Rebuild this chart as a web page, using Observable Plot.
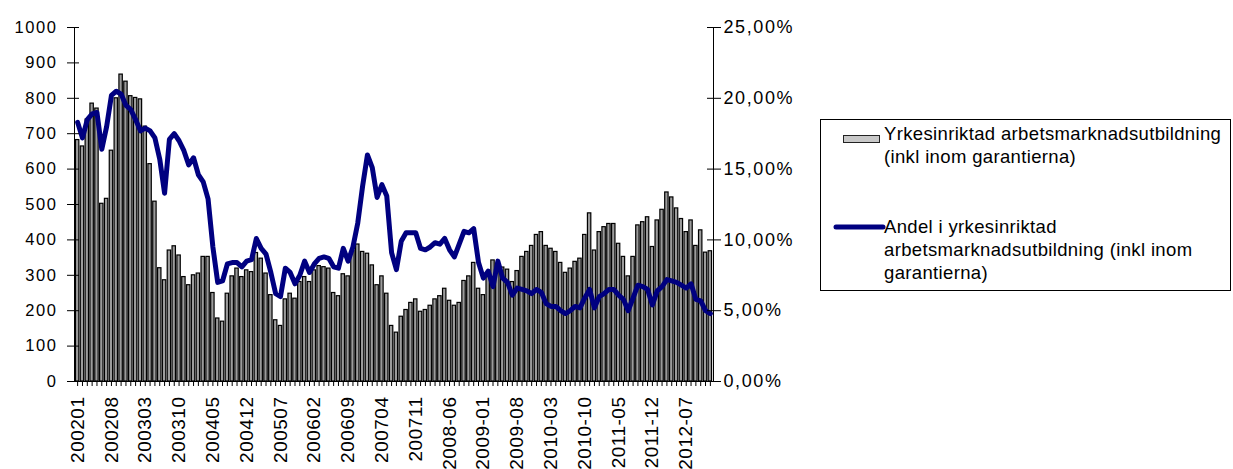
<!DOCTYPE html>
<html>
<head>
<meta charset="utf-8">
<script src="https://cdn.jsdelivr.net/npm/d3@7"></script>
<script src="https://cdn.jsdelivr.net/npm/@observablehq/plot@0.6"></script>
<style>
  html, body { margin: 0; padding: 0; background: #fff; width: 1233px; height: 469px; overflow: hidden; }
  #chart { position: absolute; left: 0; top: 0; }
  #legend { position: absolute; left: 0; top: 0; }
  g[aria-label="x-axis tick label"] text { letter-spacing: 0.5px; }
  .rlab g[aria-label="y-axis tick label"] text { letter-spacing: 1.6px; }
</style>
</head>
<body>
<div id="chart"></div>
<svg id="legend" width="1233" height="469" style="pointer-events:none"></svg>
<script>
// Categories: months 2002-01 .. 2012-12 (labels as in the source: YYYYMM until 2007, YYYY-MM from 2008)
const years = [2002, 2003, 2004, 2005, 2006, 2007, 2008, 2009, 2010, 2011, 2012];
const monthNums = ["01","02","03","04","05","06","07","08","09","10","11","12"];
const months = [];
for (const y of years) for (const m of monthNums) months.push(y < 2008 ? `${y}${m}` : `${y}-${m}`);

// Tick labels shown on the x axis
const tickLabels = ["200201","200208","200303","200310","200405","200412","200507","200602","200609",
  "200704","200711","2008-06","2009-01","2009-08","2010-03","2010-10","2011-05","2011-12","2012-07"];

// Bars: Yrkesinriktad arbetsmarknadsutbildning (inkl inom garantierna), count
const counts = [
  682, 664, 740, 785, 771, 502, 516, 652, 800, 867, 847, 806, 801, 797, 720, 614, 508, 320, 286, 370, 382, 356, 295, 272, 300, 305,
  352, 352, 250, 178, 169, 248, 297, 319, 295, 314, 309, 363, 347, 305, 244, 173, 157, 232, 248, 234, 281, 295, 281, 314, 326, 323,
  319, 250, 241, 303, 297, 370, 387, 366, 361, 328, 272, 297, 248, 157, 138, 183, 202, 222, 232, 197, 202, 214, 232, 241, 262, 228, 214,
  222, 284, 297, 335, 262, 244, 295, 342, 319, 322, 316, 281, 312, 352, 366, 383, 414, 422, 383, 375, 366, 335, 307, 319, 338, 347,
  414, 475, 370, 422, 436, 445, 445, 389, 352, 297, 352, 441, 450, 464, 380, 455, 485, 534, 520, 489, 459, 422, 455, 383, 427, 364, 368
];

// Line: Andel i yrkesinriktad arbetsmarknadsutbildning, percent
const shares = [
  18.3, 17.2, 18.5, 18.9, 19.0, 16.4, 18.0, 20.2, 20.5, 20.3, 19.5, 19.2, 18.5, 17.7, 17.9, 17.7, 17.2, 15.7, 13.3, 17.1, 17.5, 17.0, 16.3, 15.3, 15.8, 14.6,
  14.1, 12.9, 9.5, 7.0, 7.1, 8.3, 8.4, 8.4, 8.1, 8.5, 8.6, 10.1, 9.4, 9.0, 7.7, 6.2, 6.0, 8.0, 7.7, 6.9, 7.5, 8.5, 7.7, 8.3, 8.7, 8.8,
  8.7, 8.1, 8.0, 9.4, 8.5, 9.5, 11.2, 13.8, 16.0, 15.1, 13.0, 13.9, 13.1, 9.1, 7.9, 9.9, 10.5, 10.5, 10.5, 9.4, 9.3, 9.5, 9.8, 9.7, 10.1, 9.3, 8.8,
  9.7, 10.6, 10.5, 10.8, 8.4, 7.3, 7.8, 6.7, 8.5, 7.3, 7.0, 6.1, 6.6, 6.5, 6.4, 6.2, 6.5, 6.3, 5.5, 5.3, 5.3, 5.0, 4.8, 5.0, 5.3, 5.2,
  5.9, 6.5, 5.2, 6.0, 6.2, 6.5, 6.5, 6.1, 5.8, 5.0, 5.9, 6.8, 6.7, 6.5, 5.4, 6.4, 6.7, 7.2, 7.1, 7.0, 6.8, 6.6, 6.9, 5.8, 5.7, 5.0, 4.8
];

const leftTicks = [0, 100, 200, 300, 400, 500, 600, 700, 800, 900, 1000];
const rightTicks = [0, 5, 10, 15, 20, 25];
const pctToLeft = 1000 / 25; // right axis 0–25 % mapped onto left 0–1000

const data = months.map((m, i) => ({ month: m, count: counts[i], share: shares[i] }));

const chart = Plot.plot({
  width: 815,
  height: 469,
  marginLeft: 74,
  marginRight: 102,
  marginTop: 27,
  marginBottom: 88,
  className: "rlab",
  style: { fontFamily: "'Liberation Sans', Arial, sans-serif", fontSize: "17px", color: "#000", background: "transparent", overflow: "visible" },
  x: { domain: months, padding: 0.3, label: null },
  y: { domain: [0, 1000], label: null },
  marks: [
    Plot.barY(data, { x: "month", y: "count", fill: "#9c9c9c", stroke: "#000", strokeWidth: 1.2 }),
    Plot.line(data, { x: "month", y: d => d.share * pctToLeft, stroke: "#000080", strokeWidth: 5, strokeLinejoin: "round", strokeLinecap: "round" }),
    Plot.ruleY([0], { stroke: "#000", strokeWidth: 1 }),
    Plot.frame({ anchor: "left", stroke: "#000" }),
    Plot.frame({ anchor: "right", stroke: "#000" }),
    Plot.axisY({ ticks: leftTicks, tickSize: 7, tickPadding: 10, fontSize: 16.5, label: null, tickFormat: d => String(d) }),
    Plot.axisY({ ticks: leftTicks, tickSize: -5, tickFormat: () => "", label: null }),
    Plot.axisY({ anchor: "right", ticks: rightTicks.map(p => p * pctToLeft), tickSize: 7, tickPadding: 3, fontSize: 18, label: null,
      tickFormat: d => (d / pctToLeft).toFixed(2).replace(".", ",") + "%" }),
    Plot.axisY({ anchor: "right", ticks: rightTicks.map(p => p * pctToLeft), tickSize: -7, tickFormat: () => "", label: null }),
    Plot.axisX({ ticks: months, tickSize: 5, tickFormat: () => "", label: null }),
    Plot.axisX({ ticks: tickLabels, tickSize: 0, tickPadding: 15, tickRotate: -90, fontSize: 19, label: null })
  ]
});
document.getElementById("chart").appendChild(chart);

// Legend (drawn as SVG text)
const lg = d3.select("#legend");
lg.append("rect").attr("x", 820.5).attr("y", 119.5).attr("width", 410).attr("height", 171)
  .attr("fill", "#fff").attr("stroke", "#000").attr("stroke-width", 1);
lg.append("rect").attr("x", 843.5).attr("y", 135.5).attr("width", 36).attr("height", 7)
  .attr("fill", "#c8c8c8").attr("stroke", "#222").attr("stroke-width", 1);
lg.append("line").attr("x1", 836).attr("x2", 883).attr("y1", 227).attr("y2", 227)
  .attr("stroke", "#000080").attr("stroke-width", 5).attr("stroke-linecap", "round");
const legendLines = [
  ["Yrkesinriktad arbetsmarknadsutbildning", 140],
  ["(inkl inom garantierna)", 163],
  ["Andel i yrkesinriktad", 233],
  ["arbetsmarknadsutbildning (inkl inom", 256],
  ["garantierna)", 279]
];
lg.selectAll("text.lt").data(legendLines).join("text")
  .attr("class", "lt")
  .attr("x", 884).attr("y", d => d[1])
  .attr("font-family", "'Liberation Sans', Arial, sans-serif")
  .attr("font-size", 18.5).attr("letter-spacing", 0.35).attr("fill", "#000")
  .text(d => d[0]);
</script>
</body>
</html>
